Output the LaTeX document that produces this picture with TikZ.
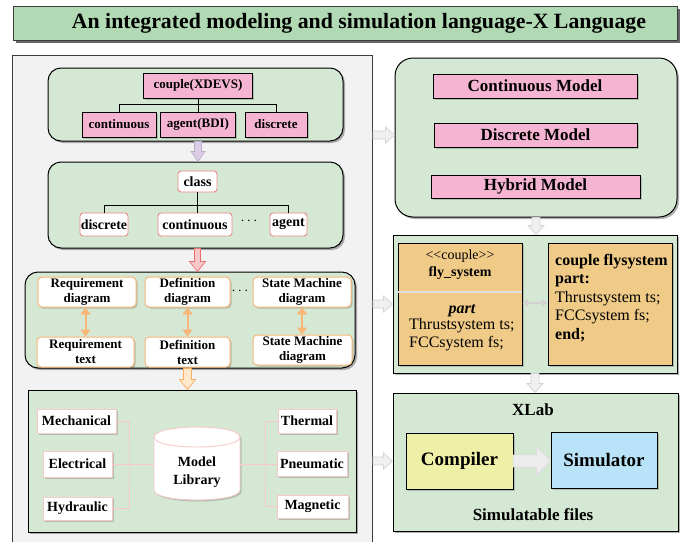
\documentclass[tikz,border=0pt]{standalone}
\usepackage{fontspec}
\setmainfont{Liberation Serif}
\usetikzlibrary{shadows,calc,arrows.meta}
\definecolor{grn}{HTML}{D5E8D4}
\definecolor{titlegrn}{HTML}{B0D9B4}
\definecolor{pnk}{HTML}{F5B5D2}
\definecolor{orng}{HTML}{F0CB88}
\definecolor{yel}{HTML}{EEF0A8}
\definecolor{blu}{HTML}{B9E3F8}
\definecolor{redln}{HTML}{EA8888}
\definecolor{orln}{HTML}{F9B679}
\definecolor{pkln}{HTML}{F6C8C8}
\definecolor{panelgray}{HTML}{F2F2F2}
\definecolor{graydk}{HTML}{3C3C3C}
\definecolor{lavfill}{HTML}{DCCDE6}
\definecolor{lavln}{HTML}{B8AEC4}
\definecolor{redfill}{HTML}{F8C8C8}
\definecolor{redarr}{HTML}{E87070}
\definecolor{orfill}{HTML}{FFE8CC}
\definecolor{orarr}{HTML}{F8B060}
\definecolor{gfill}{HTML}{F0F0F0}
\definecolor{gln}{HTML}{D2D2D2}
\newcommand\blkdown[6]{%
 \path[#1] let \p1=#2, \p2=#3 in
 (\x1-#4pt,\y1) -- (\x1-#4pt,\y2+#6pt) -- (\x1-#5pt,\y2+#6pt) -- (\x1,\y2) --
 (\x1+#5pt,\y2+#6pt) -- (\x1+#4pt,\y2+#6pt) -- (\x1+#4pt,\y1) -- cycle;}
\newcommand\blkright[6]{%
 \path[#1] let \p1=#2, \p2=#3 in
 (\x1,\y1-#4pt) -- (\x2-#6pt,\y1-#4pt) -- (\x2-#6pt,\y1-#5pt) -- (\x2,\y1) --
 (\x2-#6pt,\y1+#5pt) -- (\x2-#6pt,\y1+#4pt) -- (\x1,\y1+#4pt) -- cycle;}
\tikzset{
 shad/.style={drop shadow={shadow xshift=2pt,shadow yshift=-2pt,opacity=0.3,fill=black}},
 lshad/.style={drop shadow={shadow xshift=1.5pt,shadow yshift=-1.5pt,opacity=0.18,fill=black}},
 greenbox/.style={draw=black,line width=1pt,fill=grn,shad},
 pinkbox/.style={draw=black,line width=0.9pt,fill=pnk,inner sep=0pt,lshad},
 classbox/.style={draw=redln,line width=0.9pt,fill=white,rounded corners=3pt,inner sep=0pt,
   font=\fontsize{14}{16}\selectfont\bfseries},
 reqbox/.style={draw=orln,line width=1pt,fill=white,rounded corners=4pt,inner sep=0pt,align=center,
   lshad,font=\fontsize{13}{15}\selectfont\bfseries},
 libbox/.style={draw=pkln,line width=0.8pt,fill=white,inner sep=0pt,lshad,
   font=\fontsize{14}{16}\selectfont\bfseries},
 tree/.style={draw=black,line width=0.8pt},
 pkconn/.style={draw=pkln,line width=0.8pt},
 lavarrow/.style={fill=lavfill,draw=lavln,line width=0.6pt},
 redarrow/.style={fill=redfill,draw=redarr,line width=0.7pt},
 orarrow/.style={fill=orfill,draw=orarr,line width=0.7pt},
 grayarrow/.style={fill=gfill,draw=gln,line width=0.7pt},
 dblor/.style={draw=orln,line width=2pt,{Triangle[length=7pt,width=10pt]}-{Triangle[length=7pt,width=10pt]}},
 dblgray/.style={draw=gln,line width=1.6pt,{Triangle[length=6pt,width=8pt]}-{Triangle[length=6pt,width=8pt]}},
}
\begin{document}
\begin{tikzpicture}[x=1pt,y=-1pt]
\useasboundingbox (0,0) rectangle (693,541);
% title
\node[draw=graydk,line width=1pt,fill=titlegrn,minimum width=664,minimum height=34,
  drop shadow={shadow xshift=3pt,shadow yshift=-3pt,opacity=0.6,fill=black}] (title) at (345,23) {};
\node[font=\fontsize{21.8}{24}\selectfont\bfseries] (titletext) at (359,23) {An integrated modeling and simulation language-X Language};
% left panel
\node[draw=graydk,line width=1pt,fill=panelgray,minimum width=360,minimum height=492,anchor=north west] (lp) at (12,55) {};
% top box
\node[greenbox,rounded corners=13pt,minimum width=295,minimum height=73] (tb) at (195.5,104.5) {};
\node[pinkbox,minimum width=109,minimum height=25,font=\fontsize{13}{15}\selectfont\bfseries] (cx) at (198,85.5) {couple(XDEVS)};
\node[pinkbox,minimum width=74,minimum height=25,font=\fontsize{13}{15}\selectfont\bfseries] (c1) at (119,124.5) {continuous};
\node[pinkbox,minimum width=75,minimum height=25,font=\fontsize{13}{15}\selectfont\bfseries] (c2) at (198,124.5) {agent(BDI)};
\node[pinkbox,minimum width=62,minimum height=25,font=\fontsize{13}{15}\selectfont\bfseries] (c3) at (276,124.5) {discrete};
\draw[tree] (cx.south) -- (cx.south |- c2.north);
\draw[tree] (c1.north) -- ++(0,-7) -| (c3.north);
% class box
\node[greenbox,rounded corners=13pt,minimum width=295,minimum height=86] (cb) at (195.5,205) {};
\node[classbox,minimum width=39,minimum height=21] (cl) at (197.5,181.5) {class};
\node[classbox,minimum width=48,minimum height=23] (d1) at (104,224.5) {discrete};
\node[classbox,minimum width=74,minimum height=23] (d2) at (195,224.5) {continuous};
\node[font=\fontsize{14}{16}\selectfont\bfseries] (ddots) at (249,221) {$\cdots$};
\node[classbox,minimum width=37,minimum height=23] (d3) at (288.5,224.5) {agent};
\draw[tree] (cl.south) -- (cl.south |- d2.north);
\draw[tree] (d1.north) -- ++(0,-7) -| (d3.north);
\blkdown{lavarrow}{(cx.south |- tb.south)}{(cx.south |- cb.north)}{3.5}{7}{10}
% requirement box
\node[greenbox,rounded corners=13pt,minimum width=330,minimum height=96] (rb) at (190,320) {};
\node[reqbox,minimum width=98,minimum height=30] (r1) at (87,292) {Requirement\\diagram};
\node[reqbox,minimum width=85,minimum height=30] (r2) at (187.5,292) {Definition\\diagram};
\node[font=\fontsize{14}{16}\selectfont\bfseries] (rdots) at (240,291) {$\cdots$};
\node[reqbox,minimum width=98,minimum height=30] (r3) at (302,292) {State Machine\\diagram};
\node[reqbox,minimum width=97,minimum height=30] (s1) at (85.5,352) {Requirement\\text};
\node[reqbox,minimum width=85,minimum height=30] (s2) at (187.5,352) {Definition\\text};
\node[reqbox,minimum width=99,minimum height=30] (s3) at (302.5,350) {State Machine\\diagram};
\draw[dblor] (r1.south -| s1.north) -- (s1.north);
\draw[dblor] (r2.south) -- (s2.north);
\draw[dblor] (r3.south) -- (r3.south |- s3.north);
\blkdown{redarrow}{(cl.south |- cb.south)}{(cl.south |- rb.north)}{3}{8}{10}
% library
\node[draw=black,line width=1pt,fill=grn,shad,minimum width=328,minimum height=142] (lb) at (192,461) {};
\blkdown{orarrow}{(s2.south |- rb.south)}{(s2.south |- lb.north)}{4}{8}{10}
\node[minimum width=86,minimum height=73,align=center,inner sep=0pt,font=\fontsize{14}{17}\selectfont\bfseries] (cyl) at (197,464) {};
\draw[draw=pkln,line width=0.9pt,fill=white,lshad] (154,437) -- (154,490) .. controls (154,503.3) and (240,503.3) .. (240,490) -- (240,437) .. controls (240,423.7) and (154,423.7) .. (154,437) -- cycle;
\draw[draw=pkln,line width=0.9pt] (154,437) .. controls (154,450.3) and (240,450.3) .. (240,437);
\node[align=center,font=\fontsize{14}{18}\selectfont\bfseries] (cyltext) at (197,472) {Model\\Library};
\node[libbox,minimum width=79,minimum height=24] (m1) at (76.5,421) {Mechanical};
\node[libbox,minimum width=69,minimum height=26] (m2) at (77.5,464) {Electrical};
\node[libbox,minimum width=69,minimum height=23] (m3) at (77.5,508.5) {Hydraulic};
\node[libbox,minimum width=58,minimum height=24] (t1) at (307,421) {Thermal};
\node[libbox,minimum width=70,minimum height=25] (t2) at (312,464) {Pneumatic};
\node[libbox,minimum width=71,minimum height=23] (t3) at (312.5,506.5) {Magnetic};
\coordinate (lx) at (129,464);
\coordinate (rx) at (265,464);
\draw[pkconn] (m1.east) -| (lx) |- (m3.east);
\draw[pkconn] (m2.east) -- (cyl.west);
\draw[pkconn] (t1.west) -| (rx) |- (t3.west);
\draw[pkconn] (cyl.east) -- (t2.west);
% right: models
\node[greenbox,rounded corners=18pt,minimum width=282,minimum height=159] (mb) at (536,137.5) {};
\node[pinkbox,minimum width=204,minimum height=24,font=\fontsize{17}{19}\selectfont\bfseries] (cm) at (535,86) {Continuous Model};
\node[pinkbox,minimum width=203,minimum height=24,font=\fontsize{17}{19}\selectfont\bfseries] (dm) at (535.5,135) {Discrete Model};
\node[pinkbox,minimum width=209,minimum height=23,font=\fontsize{17}{19}\selectfont\bfseries] (hm) at (535.5,186.5) {Hybrid Model};
% fly system
\node[draw=black,line width=1pt,fill=grn,shad,minimum width=284,minimum height=138] (fb) at (535,304) {};
\node[draw=black,line width=0.9pt,fill=orng,lshad,minimum width=124,minimum height=122] (ol) at (460,304) {};
\draw[draw=gray!25,line width=1.8pt] ($(ol.west)+(0.6,-12)$) -- ($(ol.east)+(-0.6,-12)$);
\node[align=center,font=\fontsize{14}{17}\selectfont] (olt) at (460,265) {{<}{<}couple{>}{>}\\\textbf{fly\_system}};
\node[font=\fontsize{16}{18}\selectfont\bfseries\itshape] (olp) at (462,311) {part};
\node[align=left,anchor=north west,inner sep=0pt,font=\fontsize{16}{18.5}\selectfont] (olc) at (409,318) {Thrustsystem ts;\\FCCsystem fs;};
\node[draw=black,line width=0.9pt,fill=orng,lshad,minimum width=124,minimum height=122] (or) at (610,304) {};
\node[align=left,anchor=north west,inner sep=0pt,font=\fontsize{16}{18.5}\selectfont] (ortext) at (555,254)
  {\textbf{couple flysystem}\\\textbf{part:}\\Thrustsystem ts;\\FCCsystem fs;\\\textbf{end;}};
\draw[dblgray] (ol.east |- 0,303) -- (or.west |- 0,303);
% xlab
\node[draw=black,line width=1pt,fill=grn,shad,minimum width=285,minimum height=138] (xb) at (535.5,462) {};
\node[font=\fontsize{17}{19}\selectfont\bfseries] (xlab) at (533,410) {XLab};
\node[draw=black,line width=0.9pt,fill=yel,lshad,minimum width=107,minimum height=56,font=\fontsize{19}{21}\selectfont\bfseries] (comp) at (459.5,461) {Compiler};
\node[draw=black,line width=0.9pt,fill=blu,lshad,minimum width=106,minimum height=56,font=\fontsize{19}{21}\selectfont\bfseries] (sim) at (604,460) {Simulator};
\node[font=\fontsize{17}{19}\selectfont\bfseries] (simf) at (533,515) {Simulatable files};
\blkright{fill=gray!15,draw=gray!25,line width=0.7pt}{(comp.east)}{(sim.west |- comp.east)}{6}{14}{14}
% gray arrows
\blkright{grayarrow}{(lp.east |- dm.center)}{(mb.west |- dm.center)}{4}{8}{9}
\blkright{grayarrow}{(lp.east |- fb.center)}{(fb.west |- fb.center)}{4}{8}{9}
\blkright{grayarrow}{(lp.east |- comp.center)}{(xb.west |- comp.center)}{4}{8}{9}
\blkdown{grayarrow}{(mb.south)}{(fb.north -| mb.south)}{4}{8}{9}
\blkdown{grayarrow}{(fb.south)}{(xb.north -| fb.south)}{4}{8}{9}
\end{tikzpicture}
\end{document}
